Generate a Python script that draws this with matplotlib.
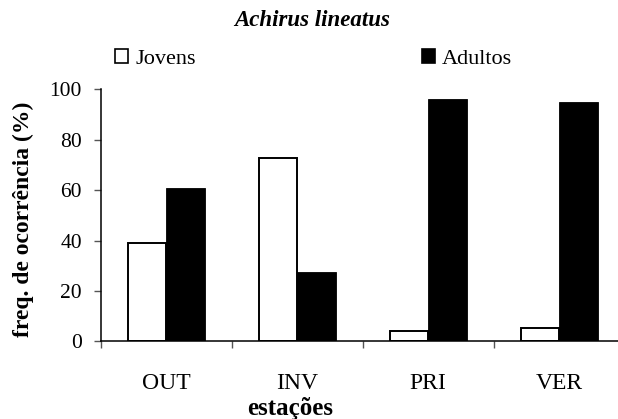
import numpy as np
import matplotlib
matplotlib.use('Agg')
import matplotlib.pyplot as plt
from matplotlib.patches import Patch

categories = ['OUT', 'INV', 'PRI', 'VER']
jovens = [39.1, 72.7, 4.2, 5.4]
adultos = [61.0, 27.4, 96.0, 94.8]
yticks = [0, 20, 40, 60, 80, 100]
series_names = ['Jovens', 'Adultos']
title = 'Achirus lineatus'
xlabel = 'estações'
ylabel = 'freq. de ocorrência (%)'

plt.rcParams['font.family'] = ['Liberation Serif', 'DejaVu Serif']

W, H = 618, 419
fig = plt.figure(figsize=(W / 100, H / 100), dpi=100)
ax = fig.add_axes([100.7 / W, 77.7 / H, 524 / W, 252 / H])

x = np.arange(len(categories))
w = 0.294
ax.bar(x - w / 2, jovens, w, color='white', edgecolor='black', linewidth=1.4)
ax.bar(x + w / 2, adultos, w, color='black', edgecolor='black', linewidth=0.6)

ax.set_xlim(-0.5, len(categories) - 0.5)
ax.set_ylim(0, 100)

for s in ['top', 'right']:
    ax.spines[s].set_visible(False)
for s in ['left', 'bottom']:
    ax.spines[s].set_linewidth(1.1)
    ax.spines[s].set_color('black')

ax.set_yticks(yticks)
ax.set_yticklabels([str(v) for v in yticks])
ax.tick_params(axis='y', direction='out', length=5, width=1.0, color='#555555',
               labelsize=15.5, pad=8.5)

ax.set_xticks(np.arange(len(categories)) - 0.5)
ax.set_xticklabels([])
ax.set_xticks(x, minor=True)
ax.set_xticklabels(categories, minor=True)
ax.tick_params(axis='x', which='major', direction='out', length=5, width=1.0,
               color='#555555')
ax.tick_params(axis='x', which='minor', length=0, labelsize=17, pad=23)

fig.text(312 / W, 1 - 20 / H, title, ha='center', va='center',
         fontsize=16.5, fontweight='bold', fontstyle='italic')
fig.text(290.5 / W, 1 - 408 / H, xlabel, ha='center', va='center',
         fontsize=18, fontweight='bold')
fig.text(23 / W, 1 - 219 / H, ylabel, ha='center', va='center', rotation=90,
         fontsize=17, fontweight='bold')

h1 = Patch(facecolor='white', edgecolor='black', linewidth=1.2)
h2 = Patch(facecolor='black', edgecolor='black', linewidth=1.2)
common = dict(loc='center left', frameon=False, borderpad=0, borderaxespad=0,
              fontsize=16, handlelength=0.6, handleheight=0.6,
              handletextpad=0.3)
fig.legend(handles=[h1], labels=[series_names[0]],
           bbox_to_anchor=(115 / W, 1 - 59 / H), **common)
fig.legend(handles=[h2], labels=[series_names[1]],
           bbox_to_anchor=(421.7 / W, 1 - 59 / H), **common)

fig.savefig('out.png', dpi=100)
